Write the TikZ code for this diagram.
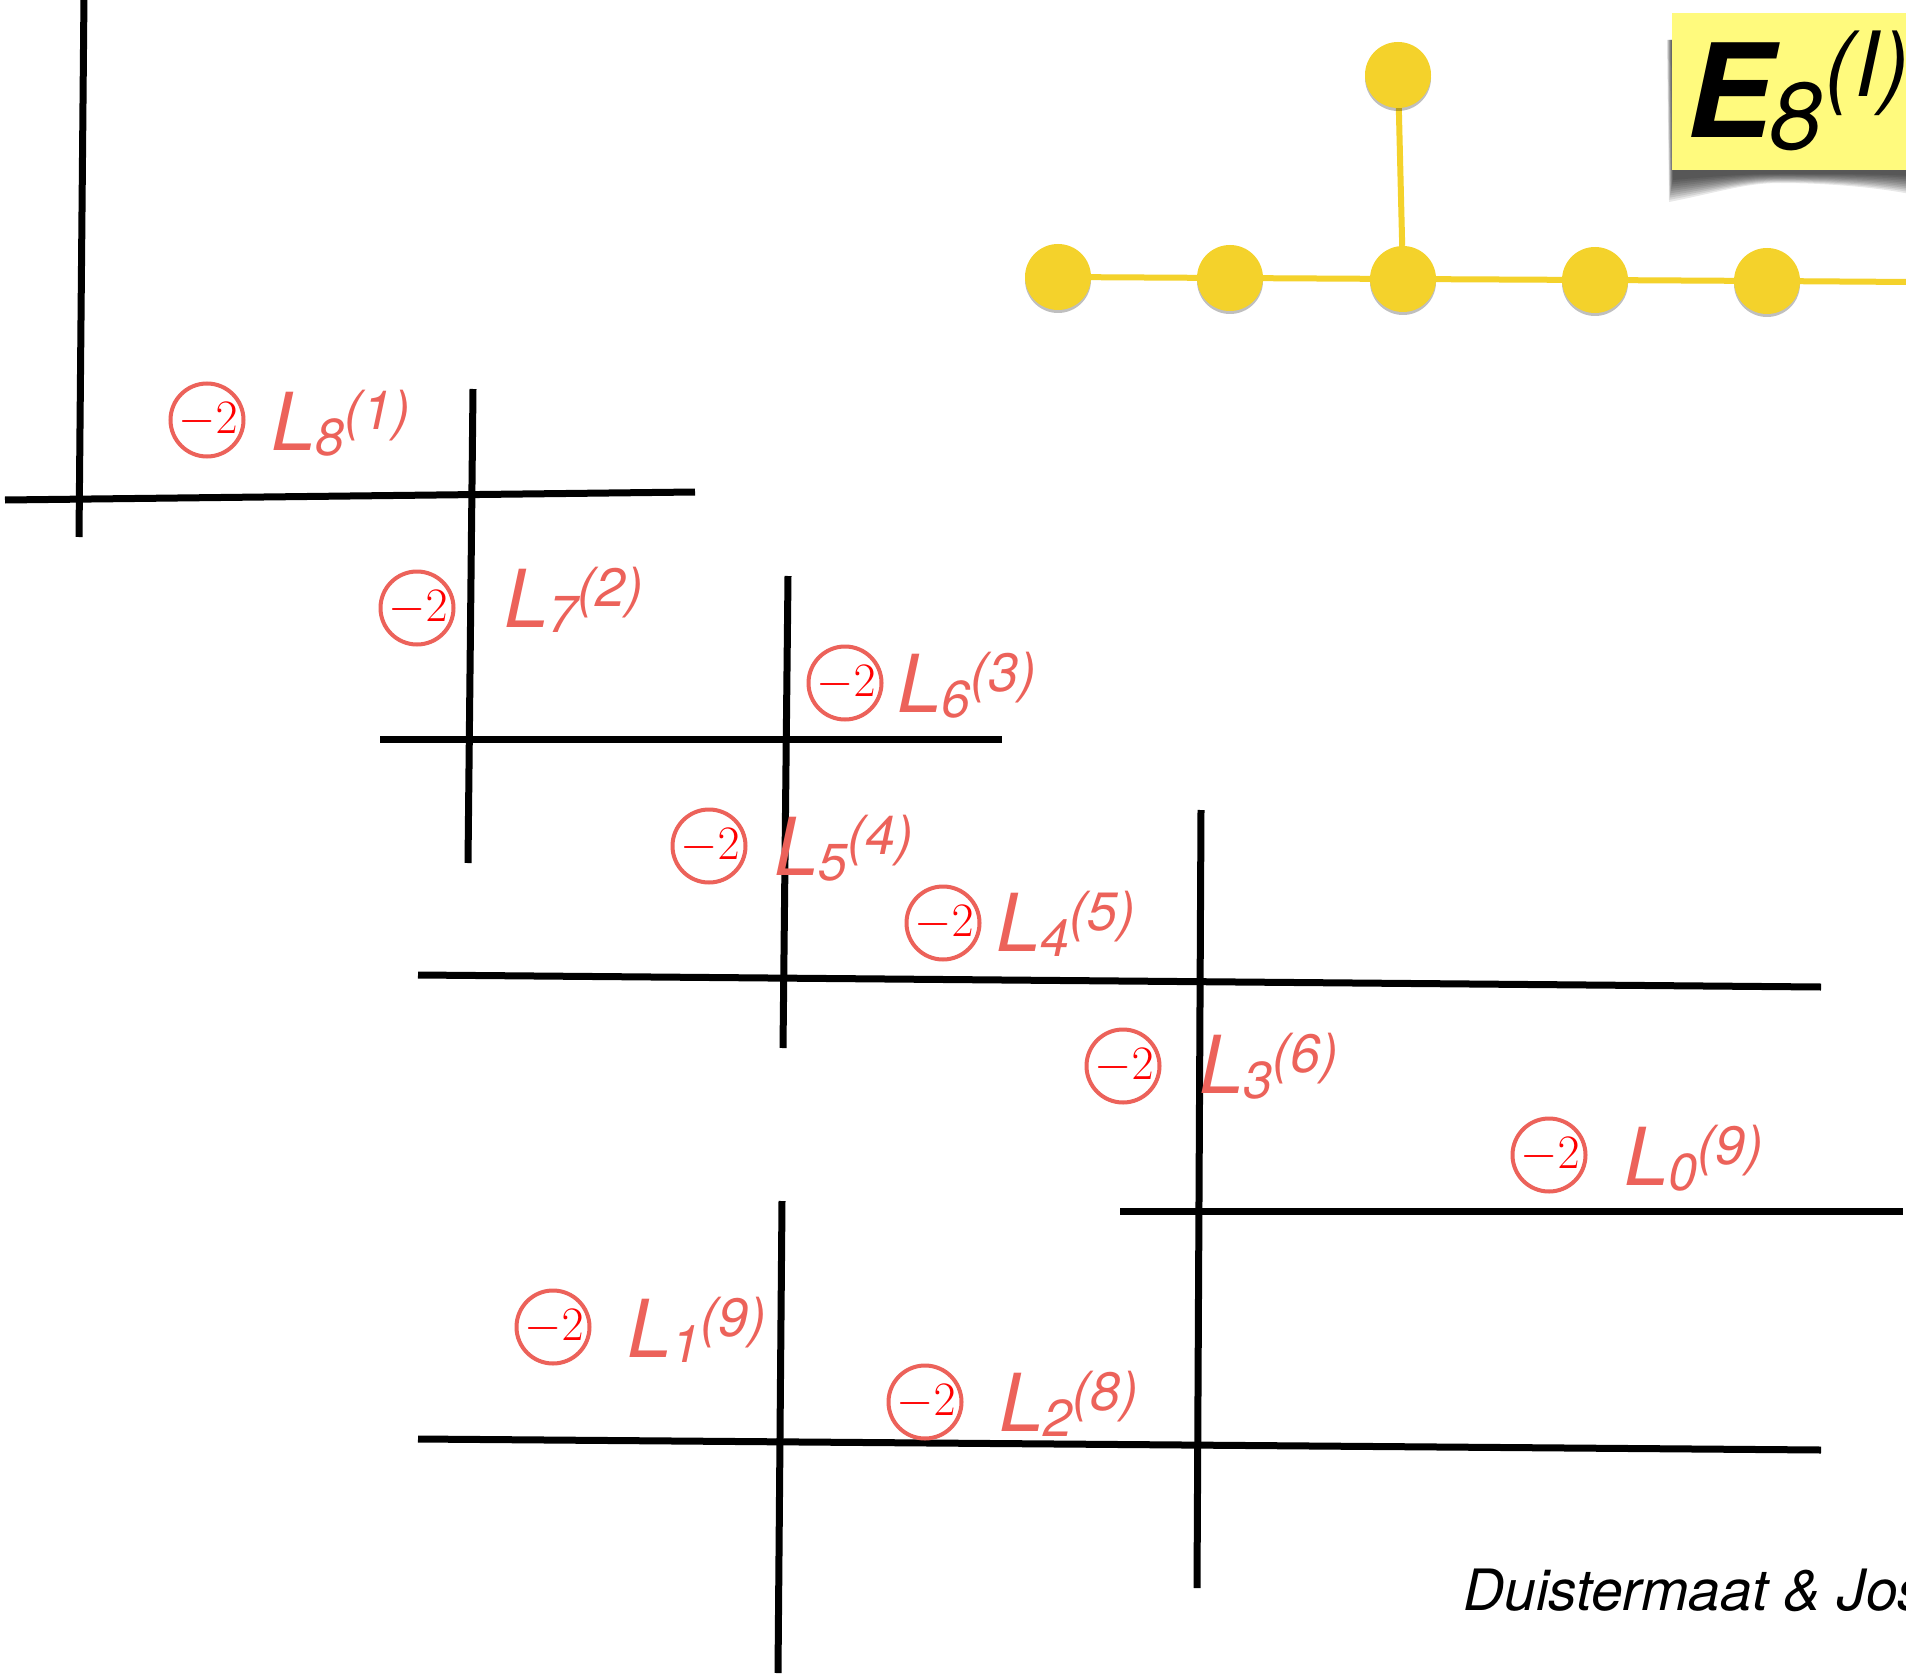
\RequirePackage{fix-cm}
\documentclass[tikz,border=0pt]{standalone}
\usepackage{fontspec}
\newfontfamily\hel{TeX Gyre Heros}
\usetikzlibrary{shadows,backgrounds}
\definecolor{salmon}{RGB}{236,98,90}
\definecolor{dyn}{RGB}{244,210,43}
\definecolor{note}{RGB}{255,250,125}
\newcommand\lbl[2]{{\hel\itshape\fontsize{80}{80}\selectfont L\fontsize{52}{52}\selectfont\raisebox{-5pt}{#1}\fontsize{54}{54}\selectfont\raisebox{21pt}{(#2)}}}
\begin{document}
\begin{tikzpicture}[x=1pt,y=-1pt,
  curve/.style={line width=7pt, draw=black},
  ring/.style={circle, draw=salmon, line width=4pt, minimum size=73pt, inner sep=0pt},
  mtwo/.style={text=red, font=\fontsize{48}{48}\selectfont, inner sep=0pt},
  lname/.style={anchor=base west, inner sep=0pt, text=salmon},
  dnode/.style={circle, fill=dyn, minimum size=66pt, inner sep=0pt,
     drop shadow={shadow xshift=0pt, shadow yshift=-3pt, opacity=0.25, fill=black}},
  dedge/.style={draw=dyn, line width=6pt}]
\useasboundingbox (0,0) rectangle (1906,1680);
\clip (0,0) rectangle (1906,1680);
\begin{scope}[on background layer]
\fill[white] (0,0) rectangle (1906,1680);
\end{scope}

% black curves
\coordinate (v1a) at (84,-5);    \coordinate (v1b) at (79,537);
\coordinate (h1a) at (5,500);    \coordinate (h1b) at (695,492);
\coordinate (v2a) at (473,389);  \coordinate (v2b) at (468,863);
\coordinate (h2a) at (380,739);  \coordinate (h2b) at (1002,739);
\coordinate (v3a) at (788,576);  \coordinate (v3b) at (783,1048);
\coordinate (h3a) at (418,975);  \coordinate (h3b) at (1821,987);
\coordinate (v4a) at (1201,810); \coordinate (v4b) at (1197,1588);
\coordinate (h4a) at (1120,1211);\coordinate (h4b) at (1903,1211);
\coordinate (v5a) at (782,1201); \coordinate (v5b) at (778,1673);
\coordinate (h5a) at (418,1439); \coordinate (h5b) at (1821,1450);
\foreach \p in {v1,h1,v2,h2,v3,h3,v4,h4,v5,h5} \draw[curve] (\p a) -- (\p b);

% labels
\foreach \n/\cx/\cy/\lx/\ly/\s/\t in {8/207/420/277/450/8/1, 7/417/608/510/627/7/2, 6/845/683/903/712/6/3,
   5/709/846/780/875/5/4, 4/943/923/1002/951/4/5, 3/1123/1066/1205/1093/3/6,
   0/1549/1155/1630/1185/0/9, 1/553/1327/633/1357/1/9, 2/925/1402/1005/1431/2/8}{
  \node[ring] (r\n) at (\cx,\cy) {};
  \node[mtwo] (m\n) at ([xshift=1pt]r\n.center) {$-2$};
  \node[lname] (l\n) at (\lx-6,\ly) {\lbl{\s}{\t}};
}

% Dynkin diagram
\node[dnode] (d1) at (1058,277) {};
\node[dnode] (d2) at (1230,278) {};
\node[dnode] (d3) at (1403,279) {};
\node[dnode] (d4) at (1595,280) {};
\node[dnode] (d5) at (1767,281) {};
\node[dnode] (d0) at (1398,75) {};
\coordinate (dr) at (1912,282);
\begin{scope}[on background layer]
\draw[dedge] (d1) -- (d2) -- (d3) -- (d4) -- (d5) -- (dr);
\draw[dedge] (d0) -- (d3);
\end{scope}

% note box shadow
\foreach \i in {0,...,10}{
  \fill[black, opacity=0.09] (1667+\i*0.5,40) -- (1669+\i*0.4,202-\i*2.2)
     .. controls (1720,192-\i*1.6) and (1745,183-\i*0.9) .. (1780,183-\i*0.9)
     .. controls (1830,183-\i*0.9) and (1880,188-\i*1.4) .. (1910,194-\i*1.8)
     -- (1910,40) -- cycle;
}
\node[fill=note, anchor=north west, minimum width=260pt, minimum height=157pt, inner sep=0pt] (box) at (1672,13) {};
\node[anchor=base west, inner sep=0pt] (e8) at (1686,138)
  {{\hel\itshape\bfseries\fontsize{130}{130}\selectfont E}\kern-3pt{\hel\itshape\fontsize{95}{95}\selectfont\raisebox{-12pt}{8}}\kern2pt{\hel\itshape\fontsize{90}{90}\selectfont\raisebox{41pt}{(I)}}};

% citation
\node[anchor=base west, inner sep=0pt] (cite) at (1463,1610)
  {\hel\itshape\fontsize{57}{57}\selectfont Duistermaat \& Joshi};
\end{tikzpicture}
\end{document}
